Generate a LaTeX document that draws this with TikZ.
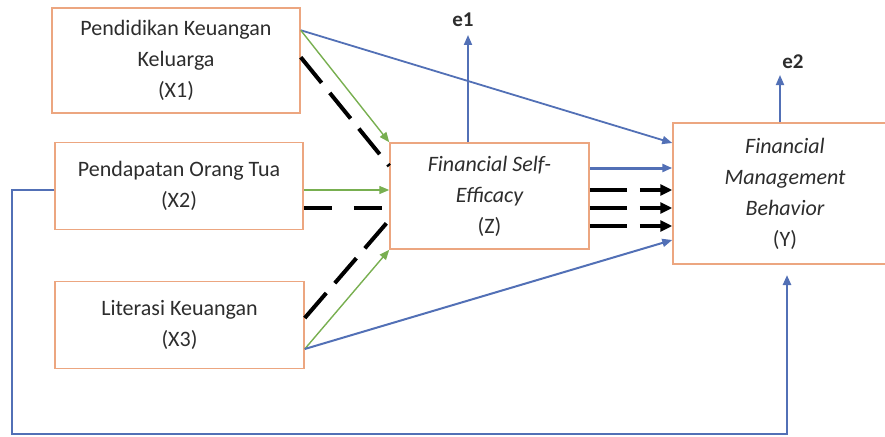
\documentclass[tikz,border=0pt]{standalone}
\usepackage{fontspec}
\setmainfont{Carlito}
\usetikzlibrary{arrows.meta,calc}
\definecolor{boxedge}{RGB}{236,166,128}
\definecolor{lblue}{RGB}{82,112,182}
\definecolor{lgreen}{RGB}{120,175,80}
\definecolor{txt}{RGB}{45,45,45}
\begin{document}
\begin{tikzpicture}[x=1pt,y=-1pt,
  varbox/.style={draw=boxedge,line width=1.5pt,fill=white,align=center,inner sep=0pt,
     font=\fontsize{22}{31}\selectfont,text=txt},
  bluearr/.style={draw=lblue,line width=1.8pt,-{Triangle[length=10pt,width=8pt]}},
  greenarr/.style={draw=lgreen,line width=1.4pt,-{Triangle[length=10pt,width=8pt]}},
  blackdash/.style={draw=black,line width=4pt,dash pattern=on 33pt off 13pt},
  blackdasharr/.style={draw=black,line width=4pt,dash pattern=on 37pt off 13pt,
     -{Triangle[length=12pt,width=11pt]}},
  errlab/.style={font=\fontsize{21}{25}\selectfont\bfseries,text=txt,inner sep=0pt}]
\useasboundingbox (0,0) rectangle (885,436);
\begin{scope}
\clip (0,0) rectangle (885,436);
% boxes
\node[varbox,minimum width=248pt,minimum height=105pt] (x1) at (176,60.5)
  {Pendidikan Keuangan\\Keluarga\\(X1)};
\node[varbox,minimum width=248pt,minimum height=87pt] (x2) at (179,186)
  {Pendapatan Orang Tua\\(X2)};
\node[varbox,minimum width=249pt,minimum height=87pt] (x3) at (179.5,325)
  {Literasi Keuangan\\(X3)};
\node[varbox,minimum width=199pt,minimum height=106pt] (z) at (489.5,196)
  {\itshape Financial Self-\\\itshape Efficacy\\(Z)};
\node[varbox,minimum width=224pt,minimum height=141pt] (y) at (785,193.5)
  {\itshape Financial\\\itshape Management\\\itshape Behavior\\(Y)};
\end{scope}
% anchor points
\coordinate (x1a) at ([yshift=-23pt]x1.north east);
\coordinate (x1b) at ([yshift=-50pt]x1.north east);
\coordinate (x2a) at (x2.east |- 0,190);
\coordinate (x2b) at (x2.east |- 0,208);
\coordinate (x3a) at (x3.east |- 0,318);
\coordinate (x3b) at (x3.east |- 0,349);
\coordinate (za) at (z.east |- 0,168);
\coordinate (zb) at (z.east |- 0,190);
\coordinate (zc) at (z.east |- 0,208);
\coordinate (zd) at (z.east |- 0,226);
% X1
\draw[bluearr] (x1a) -- (y.west |- 0,143);
\draw[greenarr] (x1a) -- (z.north west);
\draw[blackdash] (x1b) -- (z.west |- 0,166);
% X2
\draw[greenarr] (x2a) -- (z.west |- x2a);
\draw[blackdash,dash pattern=on 28pt off 22pt] (x2b) -- (z.west |- x2b);
% X3
\draw[blackdash] (x3a) -- (z.west |- 0,220);
\draw[greenarr] (x3b) -- (z.south west);
\draw[bluearr,line width=2pt] (x3b) -- (y.west |- 0,240);
% Z -> Y
\draw[bluearr,line width=3pt] (za) -- (y.west |- za);
\draw[blackdasharr] (zb) -- (y.west |- zb);
\draw[blackdasharr] (zc) -- (y.west |- zc);
\draw[blackdasharr] (zd) -- (y.west |- zd);
% errors
\coordinate (e1t) at (468,35);
\coordinate (e2t) at (780,75);
\draw[bluearr] (z.north -| e1t) -- (e1t);
\draw[bluearr] (y.north -| e2t) -- (e2t);
\node[errlab] (e1) at (463,20) {e1};
\node[errlab] (e2) at (793,62) {e2};
% bottom path X2 -> Y
\coordinate (p1) at (12,190);
\coordinate (p2) at (12,434);
\coordinate (p3) at (787,434);
\coordinate (p4) at (787,275);
\draw[bluearr,line width=2.4pt] (x2.west |- p1) -- (p1) -- (p2) -- (p3) -- (p4);
\end{tikzpicture}
\end{document}
